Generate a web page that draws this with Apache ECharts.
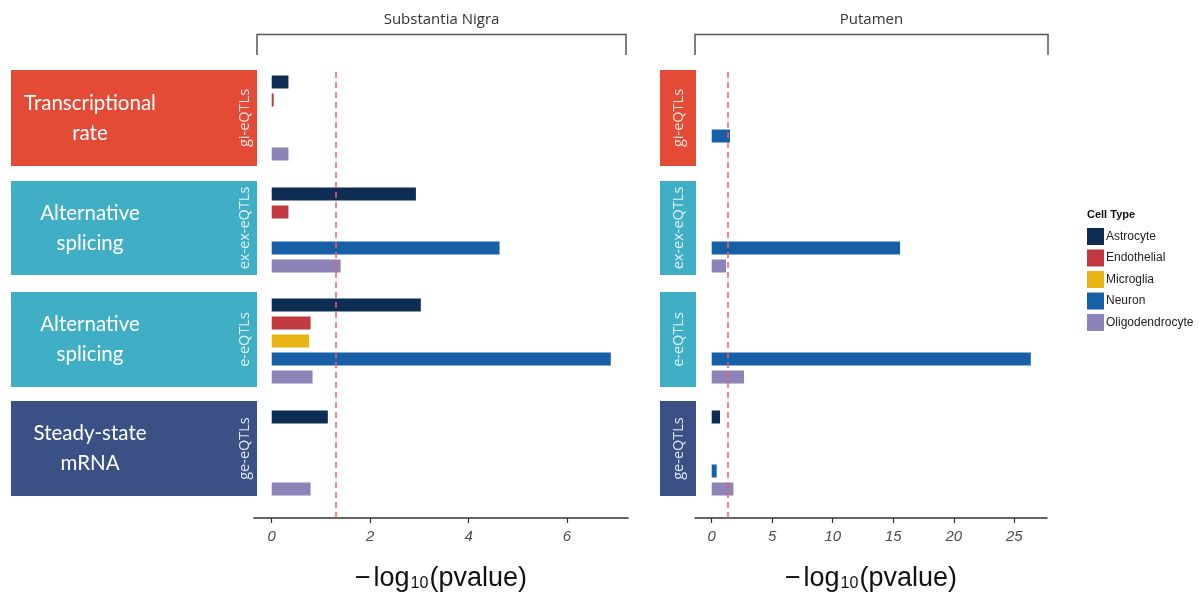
<!DOCTYPE html>
<html>
<head>
<meta charset="utf-8">
<title>eQTL enrichment by cell type</title>
<script src="https://cdn.jsdelivr.net/npm/echarts@6/dist/echarts.min.js"></script>
<style>
  html, body { margin: 0; padding: 0; background: #ffffff; }
  #chart { width: 1199px; height: 593px; }
</style>
</head>
<body>
<div id="chart"></div>
<script>
// ---- data -------------------------------------------------------------
const cellTypes = ['Astrocyte', 'Endothelial', 'Microglia', 'Neuron', 'Oligodendrocyte'];
const cellColors = ['#0d2d55', '#c1393f', '#e8b514', '#1760a8', '#8c83b8'];
const qtlTypes = ['gi-eQTLs', 'ex-ex-eQTLs', 'e-eQTLs', 'ge-eQTLs'];
const processLabels = ['Transcriptional\nrate', 'Alternative\nsplicing', 'Alternative\nsplicing', 'Steady-state\nmRNA'];
const processColors = ['#e44b37', '#40aec4', '#40aec4', '#3b5185'];
const tissues = ['Substantia Nigra', 'Putamen'];

// -log10(pvalue) per QTL type (gi, ex-ex, e, ge); null = not tested
const nigraAstrocyte       = [0.34, 2.93, 3.03, 1.14];
const nigraEndothelial     = [0.04, 0.34, 0.79, null];
const nigraMicroglia       = [null, null, 0.76, null];
const nigraNeuron          = [null, 4.63, 6.89, null];
const nigraOligodendrocyte = [0.34, 1.40, 0.83, 0.79];

const putamenAstrocyte       = [null, null, null, 0.69];
const putamenEndothelial     = [null, null, null, null];
const putamenMicroglia       = [null, null, null, null];
const putamenNeuron          = [1.51, 15.56, 26.36, 0.41];
const putamenOligodendrocyte = [null, 1.18, 2.67, 1.79];

const nigraTicks = [0, 2, 4, 6];
const putamenTicks = [0, 5, 10, 15, 20, 25];
const significance = -Math.log10(0.05);

// ---- layout -----------------------------------------------------------
const tissueValues = [
  [nigraAstrocyte, nigraEndothelial, nigraMicroglia, nigraNeuron, nigraOligodendrocyte],
  [putamenAstrocyte, putamenEndothelial, putamenMicroglia, putamenNeuron, putamenOligodendrocyte]
];
const tissueTicks = [nigraTicks, putamenTicks];
const columns = [
  { left: 254, width: 374, min: -0.36, max: 7.24 },
  { left: 695, width: 352, min: -1.38, max: 27.7 }
];
const rowTops = [73, 185, 296, 408];
const rowHeight = 90;
const stripBoxes = [[70, 166], [181, 275], [292, 387], [401, 496]];
const axisTop = 70, axisBottom = 518;

const grids = [], xAxes = [], yAxes = [], series = [];

columns.forEach((col, c) => {
  rowTops.forEach((top, r) => {
    const g = grids.length;
    grids.push({ left: col.left, top: top, width: col.width, height: rowHeight, outerBoundsMode: 'none' });
    xAxes.push({ gridIndex: g, type: 'value', min: col.min, max: col.max, show: false, splitLine: { show: false } });
    yAxes.push({ gridIndex: g, type: 'category', data: cellTypes, inverse: true, show: false });
    cellTypes.forEach((name, k) => {
      const v = tissueValues[c][k][r];
      series.push({
        name: name,
        type: 'bar',
        xAxisIndex: g,
        yAxisIndex: g,
        stack: 'cell-' + g,
        barWidth: 13,
        itemStyle: { color: cellColors[k] },
        data: cellTypes.map((_, i) => (i === k ? v : null)),
        silent: true
      });
    });
  });
});

// shared x axis + significance threshold per tissue
columns.forEach((col, c) => {
  const g = grids.length;
  grids.push({ left: col.left, top: axisTop, width: col.width, height: axisBottom - axisTop, outerBoundsMode: 'none' });
  xAxes.push({
    gridIndex: g, type: 'value', min: col.min, max: col.max,
    splitLine: { show: false },
    axisLine: { show: true, lineStyle: { color: '#333333', width: 1.5 } },
    axisTick: { show: true, length: 5, customValues: tissueTicks[c], lineStyle: { color: '#333333', width: 1.2 } },
    axisLabel: {
      customValues: tissueTicks[c], margin: 11,
      fontFamily: 'Liberation Sans', fontStyle: 'italic', fontSize: 15, color: '#4d4d4d'
    },
    name: '{a|−}{sp| }{a|log}{b|10}{a|(pvalue)}',
    nameLocation: 'middle',
    nameGap: 44,
    nameTextStyle: {
      rich: {
        a: { fontFamily: 'Liberation Sans', fontSize: 27, color: '#111111', verticalAlign: 'bottom', lineHeight: 30 },
        sp: { fontFamily: 'Liberation Sans', fontSize: 10, lineHeight: 30 },
        b: { fontFamily: 'Liberation Sans', fontSize: 16, color: '#111111', verticalAlign: 'bottom', lineHeight: 22, padding: [0, 1, 0, 1] }
      }
    }
  });
  yAxes.push({ gridIndex: g, type: 'value', min: 0, max: 1, show: false });
  series.push({
    name: 'threshold-' + c,
    type: 'line',
    xAxisIndex: g,
    yAxisIndex: g,
    data: [],
    silent: true,
    z: 10,
    markLine: {
      silent: true,
      symbol: 'none',
      label: { show: false },
      lineStyle: { color: '#f0605f', type: [6, 4], width: 1.5 },
      data: [{ xAxis: significance }]
    }
  });
});

// ---- decorations: strips, process labels, tissue brackets ----------------
const graphics = [];
stripBoxes.forEach(([y0, y1], r) => {
  const cy = (y0 + y1) / 2;
  graphics.push({ type: 'rect', left: 11, top: y0, shape: { width: 246, height: y1 - y0 }, style: { fill: processColors[r] }, z: 1 });
  graphics.push({ type: 'rect', left: 660, top: y0, shape: { width: 36, height: y1 - y0 }, style: { fill: processColors[r] }, z: 1 });
  graphics.push({
    type: 'text', x: 90, y: cy, z: 2,
    style: { text: processLabels[r], fill: '#ffffff', font: '20.5px Lato', align: 'center', verticalAlign: 'middle', lineHeight: 30 }
  });
  [245, 679].forEach(x => graphics.push({
    type: 'text', x: x, y: cy, rotation: Math.PI / 2, z: 2,
    style: { text: qtlTypes[r], fill: 'rgba(255,255,255,0.85)', font: '14.5px "Open Sans"', align: 'center', verticalAlign: 'middle' }
  }));
});

columns.forEach((col, c) => {
  const x0 = c === 0 ? 257 : 695, x1 = c === 0 ? 626 : 1048;
  graphics.push({
    type: 'polyline', z: 2,
    shape: { points: [[x0, 55], [x0, 34.5], [x1, 34.5], [x1, 55]] },
    style: { stroke: '#555555', lineWidth: 1.5, fill: null }
  });
  graphics.push({
    type: 'text', x: (x0 + x1) / 2, y: 20, z: 2,
    style: { text: tissues[c], fill: '#333333', font: '15px "Open Sans"', align: 'center', verticalAlign: 'middle' }
  });
});

graphics.push({
  type: 'text', x: 1087, y: 215, z: 2,
  style: { text: 'Cell Type', fill: '#111111', font: 'bold 11px "Liberation Sans"', align: 'left', verticalAlign: 'middle' }
});

// ---- chart ------------------------------------------------------------
const chart = echarts.init(document.getElementById('chart'), null, { renderer: 'canvas' });
chart.setOption({
  animation: false,
  backgroundColor: '#ffffff',
  grid: grids,
  xAxis: xAxes,
  yAxis: yAxes,
  series: series,
  legend: {
    data: cellTypes,
    orient: 'vertical',
    left: 1087,
    top: 228,
    padding: 0,
    icon: 'rect',
    itemWidth: 17,
    itemHeight: 17,
    itemGap: 4.5,
    selectedMode: false,
    textStyle: { fontFamily: 'Liberation Sans', fontSize: 12, color: '#222222', padding: [0, 0, 0, -3] }
  },
  graphic: graphics
});
</script>
</body>
</html>
